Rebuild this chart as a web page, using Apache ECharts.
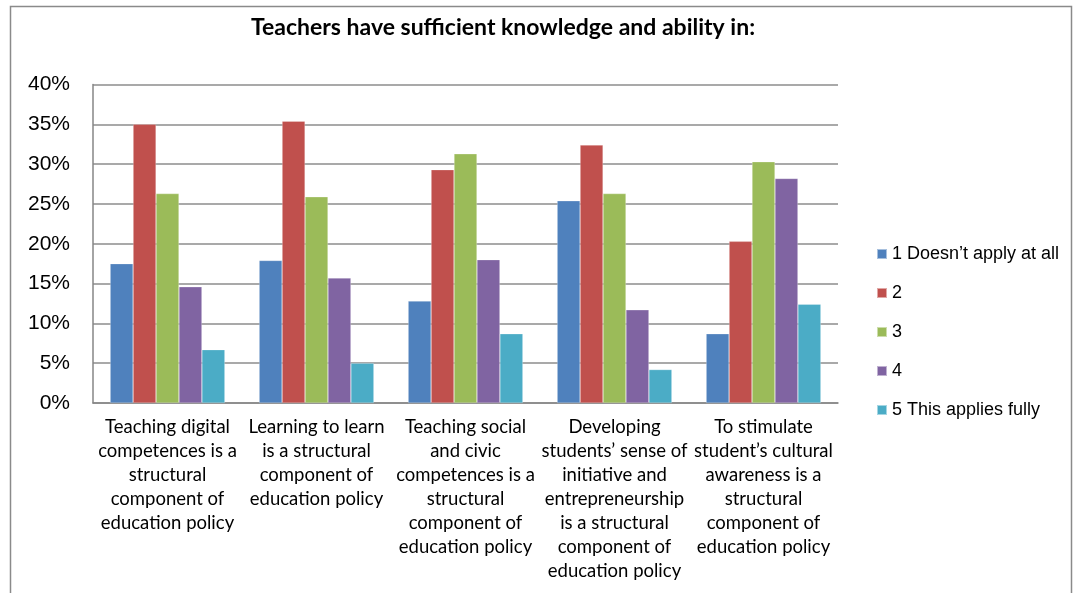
<!DOCTYPE html>
<html><head><meta charset="utf-8">
<script src="https://cdn.jsdelivr.net/npm/echarts@6/dist/echarts.min.js"></script>
<style>html,body{margin:0;padding:0;background:#fff}#c{width:1076px;height:593px}</style>
</head><body><div id="c"></div>
<script>
const categories = [
  "Teaching digital\ncompetences is a\nstructural\ncomponent of\neducation policy",
  "Learning to learn\nis a structural\ncomponent of\neducation policy",
  "Teaching social\nand civic\ncompetences is a\nstructural\ncomponent of\neducation policy",
  "Developing\nstudents\u2019 sense of\ninitiative and\nentrepreneurship\nis a structural\ncomponent of\neducation policy",
  "To stimulate\nstudent\u2019s cultural\nawareness is a\nstructural\ncomponent of\neducation policy"
];
const seriesNames = ["1 Doesn\u2019t apply at all", "2", "3", "4", "5 This applies fully"];
const s1 = [17.5, 17.9, 12.8, 25.4, 8.7];
const s2 = [35.0, 35.4, 29.3, 32.4, 20.3];
const s3 = [26.3, 25.9, 31.3, 26.3, 30.3];
const s4 = [14.6, 15.7, 18.0, 11.7, 28.2];
const s5 = [6.7, 5.0, 8.7, 4.2, 12.4];
const yTicks = [0, 5, 10, 15, 20, 25, 30, 35, 40];
const colors = ["#4F81BD", "#C0504D", "#9BBB59", "#8064A2", "#4BACC6"];

const chart = echarts.init(document.getElementById('c'));
const allData = [s1, s2, s3, s4, s5];
chart.setOption({
  animation: false,
  color: colors,
  title: {
    text: "Teachers have sufficient knowledge and ability in:",
    left: 498, top: 11, textAlign: 'center',
    textStyle: { fontFamily: "Lato, 'Liberation Sans', sans-serif", fontSize: 23, fontWeight: 'bold', color: '#000' }
  },
  graphic: [{
    type: 'rect', shape: { x: 10.5, y: 6.5, width: 1061, height: 600 },
    style: { fill: 'none', stroke: '#8a8a8a', lineWidth: 1.5 }, silent: true, z: -1
  }],
  legend: {
    orient: 'vertical', left: 871, top: 240,
    itemWidth: 10, itemHeight: 10, itemGap: 21,
    icon: 'rect',
    textStyle: { fontFamily: "'Liberation Sans', Arial, sans-serif", fontSize: 18, color: '#000', lineHeight: 17 },
    data: seriesNames
  },
  grid: { left: 93, right: 238, top: 84.5, bottom: 190, containLabel: false },
  xAxis: {
    type: 'category', data: categories,
    axisLine: { lineStyle: { color: '#868686', width: 1.5 } },
    axisTick: { show: false },
    axisLabel: {
      interval: 0, margin: 12, color: '#000',
      fontFamily: "Lato, 'Liberation Sans', sans-serif",
      fontSize: 18.5, lineHeight: 24
    }
  },
  yAxis: {
    type: 'value', min: yTicks[0], max: yTicks[yTicks.length - 1], interval: 5,
    axisLine: { show: true, lineStyle: { color: '#868686', width: 1.5 } },
    axisTick: { show: false },
    splitLine: { lineStyle: { color: '#8c8c8c', width: 1.5 } },
    axisLabel: {
      formatter: v => v + '%', margin: 23, color: '#000',
      fontFamily: "'Liberation Sans', Arial, sans-serif", fontSize: 21
    }
  },
  series: seriesNames.map((n, i) => ({
    name: n, type: 'bar', data: allData[i],
    barGap: '0%', barCategoryGap: '23%',
    itemStyle: { color: colors[i], borderColor: 'rgba(255,255,255,0.5)', borderWidth: 0.5 }
  }))
});
</script></body></html>
